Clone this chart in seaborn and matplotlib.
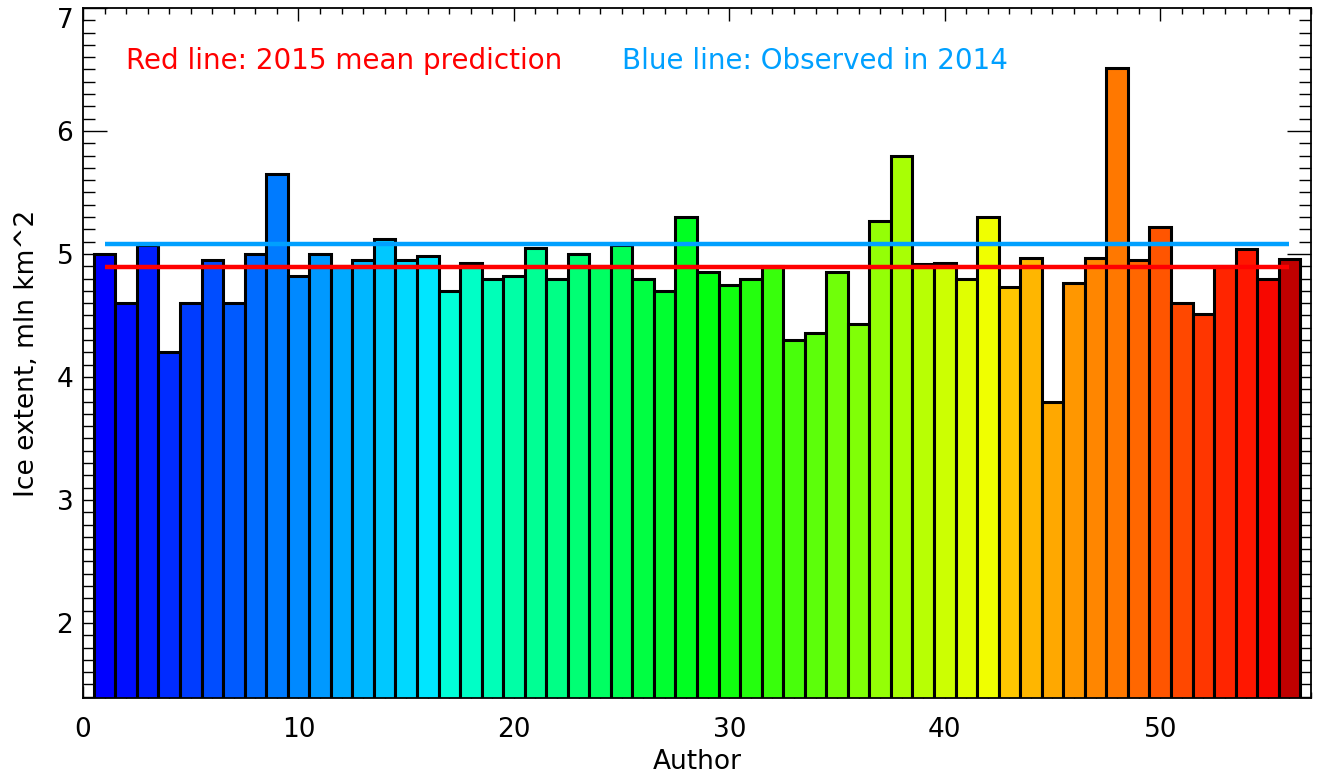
import pandas as pd
import matplotlib
matplotlib.use("Agg")
import matplotlib.pyplot as plt
import seaborn as sns
from matplotlib.colors import LinearSegmentedColormap, to_hex
from matplotlib.ticker import MultipleLocator

# data
authors = list(range(1, 57))
extent = [5.00, 4.60, 5.07, 4.20, 4.60, 4.95, 4.60, 5.00, 5.65, 4.82,
          5.00, 4.90, 4.95, 5.12, 4.95, 4.98, 4.70, 4.93, 4.80, 4.82,
          5.05, 4.80, 5.00, 4.90, 5.07, 4.80, 4.70, 5.30, 4.85, 4.75,
          4.80, 4.90, 4.30, 4.36, 4.85, 4.43, 5.27, 5.80, 4.92, 4.93,
          4.80, 5.30, 4.73, 4.97, 3.80, 4.76, 4.97, 6.51, 4.95, 5.22,
          4.60, 4.51, 4.90, 5.04, 4.80, 4.96]
mean_prediction = 4.89
observed_2014 = 5.08
red_text = "Red line: 2015 mean prediction"
blue_text = "Blue line: Observed in 2014"

df = pd.DataFrame({"author": authors, "extent": extent})
df["label"] = df["author"].astype(str)

# IDL-like rainbow table
cmap = LinearSegmentedColormap.from_list("idl_rainbow", [
    (0.0, "#0000FF"), (0.273, "#00E8FF"), (0.29, "#00FFD8"),
    (0.51, "#00FF10"), (0.745, "#F0FF00"), (0.764, "#FFC800"),
    (0.982, "#FF0800"), (1.0, "#C00000")])
n = len(authors)
palette = {lab: to_hex(cmap(i / (n - 1))) for i, lab in enumerate(df["label"])}

sns.set_style("ticks")
plt.rcParams["font.family"] = ["DejaVu Sans"]
plt.rcParams.update({"text.color": "black", "axes.labelcolor": "black",
                     "xtick.color": "black", "ytick.color": "black"})

fig = plt.figure(figsize=(13.18, 7.81), dpi=100)
ax = fig.add_axes([0.063, 0.1063, 0.9317, 0.8835])

sns.barplot(data=df, x="author", y="extent", hue="label", palette=palette,
            native_scale=True, width=1, dodge=False, saturation=1,
            edgecolor="black", linewidth=2.2, legend=False, ax=ax)

ax.hlines(mean_prediction, authors[0], authors[-1], color="#FF0000", lw=3.2, zorder=5)
ax.hlines(observed_2014, authors[0], authors[-1], color="#00A0FF", lw=3.2, zorder=5)

ax.text(0.035, 0.923, red_text, transform=ax.transAxes, color="#FF0000",
        fontsize=20, va="center", ha="left")
ax.text(0.439, 0.923, blue_text, transform=ax.transAxes, color="#00A0FF",
        fontsize=20, va="center", ha="left")

ax.set_xlim(0, 57)
ax.set_ylim(1.39, 7.0)
ax.xaxis.set_major_locator(MultipleLocator(10))
ax.xaxis.set_minor_locator(MultipleLocator(1))
ax.yaxis.set_major_locator(MultipleLocator(1))
ax.yaxis.set_minor_locator(MultipleLocator(0.1))

ax.tick_params(axis="x", which="both", direction="in", top=True, bottom=True,
               width=1.0, labelsize=19, pad=14)
ax.tick_params(axis="x", which="major", length=9)
ax.tick_params(axis="x", which="minor", length=4.5)
ax.tick_params(axis="y", which="both", direction="in", left=True, right=True,
               width=1.0, labelsize=19, pad=7)
ax.tick_params(axis="y", which="major", length=17)
ax.tick_params(axis="y", which="minor", length=8.6)

for sp in ax.spines.values():
    sp.set_linewidth(1.3)
    sp.set_color("black")

ax.set_xlabel("Author", fontsize=19, labelpad=4)
ax.set_ylabel("Ice extent, mln km^2", fontsize=19, labelpad=12)

# keep the top "7" inside the figure, as in the original
fig.canvas.draw()
for lab in ax.get_yticklabels():
    if lab.get_text() == "7":
        lab.set_va("top")

fig.savefig("out.png", dpi=100)
